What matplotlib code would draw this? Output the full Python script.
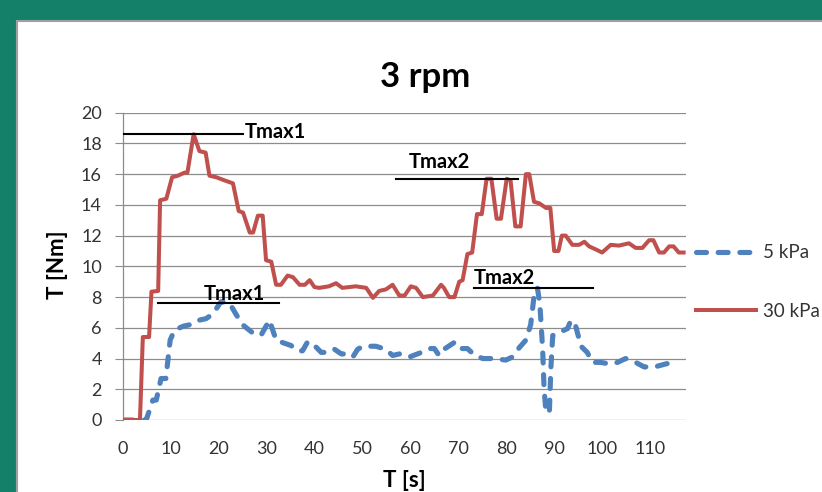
import matplotlib
matplotlib.use("Agg")
import matplotlib.pyplot as plt
from matplotlib.patches import Rectangle

plt.rcParams['font.family'] = ['Lato', 'DejaVu Sans']
plt.rcParams['lines.scale_dashes'] = False

# 30 kPa series (red, solid)
t_30 = [0, 3.6, 4.2, 5.5, 6.0, 7.4, 7.8, 9.1, 10.3, 11.5, 12.9, 13.5, 14.8, 16.0, 17.3,
        18.1, 19.5, 21.2, 23.0, 24.2, 25.1, 26.5, 27.2, 28.2, 29.2, 29.9, 31.0, 32.0, 33.0,
        34.4, 35.5, 36.9, 38.0, 39.0, 40.0, 41.0, 43.0, 44.5, 45.8, 48.6, 50.8, 52.2, 53.5,
        54.9, 56.3, 57.7, 58.8, 60.1, 61.2, 62.6, 64.7, 66.4, 67.0, 68.1, 69.2, 70.2, 70.9,
        71.9, 72.9, 73.9, 74.9, 75.9, 76.9, 78.0, 78.9, 80.1, 80.9, 81.9, 83.0, 84.1, 84.8,
        85.8, 86.9, 88.3, 89.2, 90.0, 90.9, 91.6, 92.4, 93.8, 95.2, 96.3, 97.3, 98.7, 100.0,
        101.8, 103.5, 105.6, 107.0, 108.4, 109.8, 110.7, 111.9, 112.9, 114.0, 114.9, 116.0, 117.0]
torque_30 = [0, 0, 5.4, 5.4, 8.35, 8.4, 14.3, 14.4, 15.8, 15.9, 16.1, 16.1, 18.6, 17.5, 17.4,
             15.9, 15.8, 15.6, 15.4, 13.6, 13.5, 12.2, 12.2, 13.3, 13.3, 10.4, 10.3, 8.8, 8.8,
             9.4, 9.3, 8.8, 8.8, 9.1, 8.65, 8.6, 8.7, 8.9, 8.6, 8.7, 8.6, 7.95, 8.4,
             8.5, 8.8, 8.1, 8.1, 8.7, 8.6, 8.0, 8.1, 8.8, 8.6, 8.0, 8.0, 9.0, 9.1,
             10.8, 10.9, 13.4, 13.4, 15.7, 15.7, 13.1, 13.1, 15.7, 15.6, 12.6, 12.6, 16.0, 16.0,
             14.2, 14.1, 13.8, 13.8, 11.0, 11.0, 12.0, 12.0, 11.4, 11.4, 11.6, 11.3, 11.1, 10.9,
             11.4, 11.35, 11.5, 11.2, 11.2, 11.7, 11.7, 10.9, 10.9, 11.3, 11.3, 10.9, 10.9]

# 5 kPa series (blue, dashed)
t_5 = [0, 4.9, 6.3, 7.0, 8.0, 9.0, 9.9, 10.8, 12.6, 14.0, 15.3, 17.4, 18.8, 20.5, 22.3,
       23.6, 25.0, 26.4, 27.8, 29.0, 30.6, 32.0, 33.7, 35.1, 36.5, 37.5, 38.6, 40.0, 41.4,
       43.1, 44.2, 45.6, 46.8, 48.0, 49.0, 50.1, 52.8, 54.9, 56.3, 57.7, 59.8, 61.9, 64.0,
       65.0, 66.0, 67.0, 69.2, 70.2, 71.9, 73.3, 75.1, 77.5, 79.9, 81.3, 82.7, 84.1, 85.1,
       85.8, 86.5, 87.0, 87.6, 87.9, 88.3, 89.0, 89.3, 89.7, 91.4, 92.8, 93.5, 94.5, 95.6,
       96.9, 98.0, 99.7, 101.5, 103.2, 104.9, 107.0, 108.8, 111.5, 113.3, 114.7, 115.5]
torque_5 = [0, 0, 1.3, 1.3, 2.7, 2.7, 5.2, 5.85, 6.1, 6.2, 6.45, 6.6, 6.9, 7.7, 7.6,
            6.9, 6.2, 5.85, 5.5, 5.6, 6.5, 5.2, 5.0, 4.85, 4.5, 4.5, 5.1, 4.85, 4.4,
            4.4, 4.6, 4.3, 4.3, 4.1, 4.6, 4.8, 4.8, 4.6, 4.2, 4.3, 4.1, 4.35, 4.65,
            4.65, 4.2, 4.6, 5.05, 4.65, 4.65, 4.25, 4.0, 4.0, 3.9, 4.1, 4.7, 5.2, 6.2,
            8.05, 8.6, 7.6, 4.6, 2.0, 0.5, 0.5, 3.3, 5.5, 5.75, 5.95, 6.5, 6.1, 4.8,
            4.4, 3.75, 3.75, 3.65, 3.75, 4.0, 3.75, 3.45, 3.5, 3.65, 3.75, 3.55]

# Tmax marker lines: label, level, start, end, label position
tmax_labels = ["Tmax1", "Tmax2", "Tmax1", "Tmax2"]
tmax_level = [18.6, 15.68, 7.59, 8.57]
tmax_start = [0, 57.1, 7.3, 73.3]
tmax_end = [25.0, 82.4, 32.7, 98.2]
tmax_text_x = [25.4, 59.7, 17.0, 73.3]
tmax_text_y = [18.33, 16.42, 7.81, 8.85]

W, H = 822, 492
fig = plt.figure(figsize=(W / 100, H / 100), dpi=100)
fig.patch.set_facecolor('#14806a')
fig.patches.append(Rectangle((17 / W, -0.01), 1, 1.01 - 21 / H, transform=fig.transFigure,
                             facecolor='white', edgecolor='#a0a0a0', lw=1.5, zorder=-10))

ax = fig.add_axes([122.7 / W, 1 - 420 / H, (686 - 122.7) / W, (420 - 112.7) / H])
ax.set_facecolor('none')
ax.set_zorder(2)

ax.plot(t_5, torque_5, color='#4f81bd', lw=3.7, dashes=(7.2, 8.4),
        dash_capstyle='round', solid_joinstyle='round', label='5 kPa', zorder=3)
ax.plot(t_30, torque_30, color='#c0504d', lw=2.9, solid_joinstyle='round',
        label='30 kPa', zorder=4)

for lab, lv, x0, x1, tx, ty in zip(tmax_labels, tmax_level, tmax_start, tmax_end,
                                   tmax_text_x, tmax_text_y):
    ax.plot([x0, x1], [lv, lv], color='black', lw=1.5, zorder=5)
    ax.text(tx, ty, lab, fontsize=14.5, weight='bold', ha='left', va='baseline', zorder=6)

ax.set_xlim(0, 117.5)
ax.set_ylim(0, 20)
ax.set_xticks(range(0, 111, 10))
ax.set_yticks(range(0, 21, 2))
ax.yaxis.grid(True, color='#8c8c8c', lw=0.9)
ax.set_axisbelow(True)
for s in ['top', 'right', 'bottom']:
    ax.spines[s].set_visible(False)
ax.spines['left'].set_color('#8c8c8c')
ax.spines['left'].set_linewidth(0.9)
ax.tick_params(axis='y', length=6, color='#8c8c8c', pad=9, labelsize=13, labelcolor='#333333')
ax.tick_params(axis='x', length=0, pad=15, labelsize=13, labelcolor='#333333')

fig.text(425.5 / W, 1 - 86.7 / H, '3 rpm', ha='center', va='baseline', fontsize=25, weight='bold')
fig.text(58 / W, 1 - 265 / H, 'T [Nm]', rotation=90, ha='center', va='center',
         fontsize=16, weight='bold')
fig.text(404 / W, 1 - 487 / H, 'T [s]', ha='center', va='baseline', fontsize=16, weight='bold')

fig.legend(loc='center left', bbox_to_anchor=(696 / W, 1 - 282 / H), frameon=False,
           fontsize=13.5, handlelength=3.2, handletextpad=0.37, labelspacing=2.2,
           borderpad=0, borderaxespad=0, labelcolor='#333333')

fig.savefig('out.png', dpi=100, facecolor=fig.get_facecolor())
